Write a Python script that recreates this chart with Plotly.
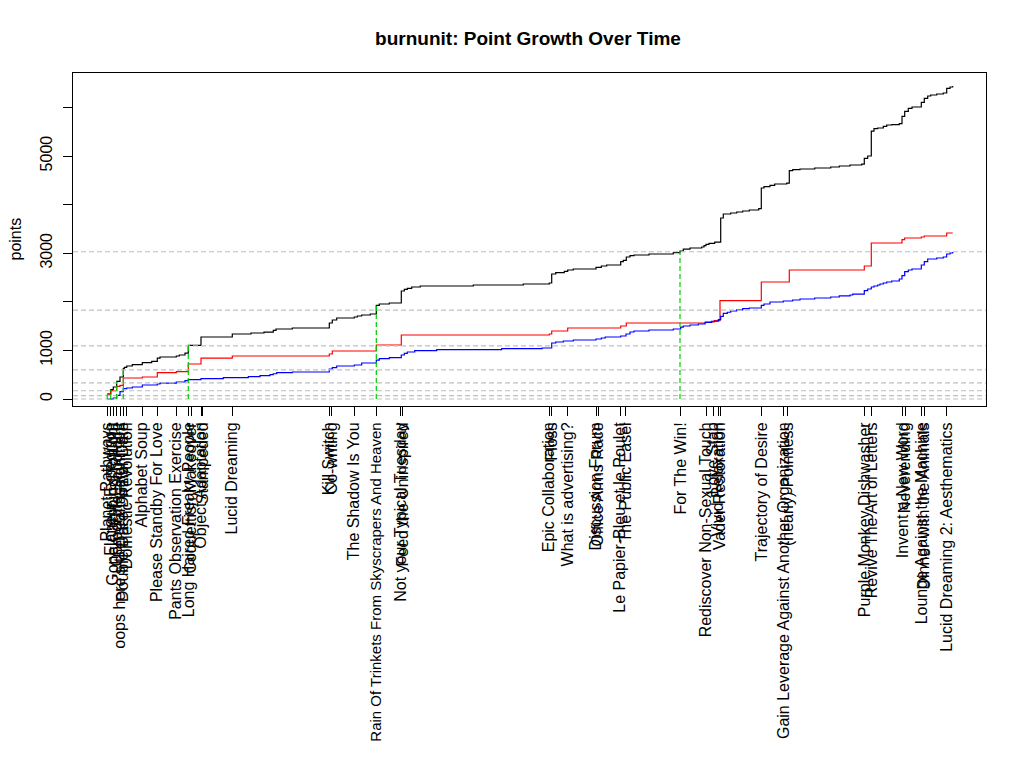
import plotly.graph_objects as go

# ---- data (days since first task) ----
task_days = [0, 3.4, 6, 9.4, 12.7, 16, 19.4, 35, 50, 69, 81.2, 84, 93.7, 95.5, 125,
             222, 224.5, 247, 269, 293.4, 295.2, 442, 444.4, 460.4, 489, 491,
             512.7, 518.2, 573.5, 598.7, 606, 611, 613, 654.4, 676.5, 680.5,
             757.5, 764.4, 795.4, 797.7, 814.4, 816.7, 839.4]
task_names = ["Planet Pathways", "Flaneur Expedition", "Gone Camping Tonight",
              "Corporate Sabotage", "oops here's the real assignment",
              "Double Dare Dinner Date", "Domestic Revolution", "Alphabet Soup",
              "Please Standby For Love", "Pants Observation Exercise",
              "Long Haired Freaky People", "Coquettish Makeover", "Object Adaptation",
              "Stampeded", "Lucid Dreaming", "Kill Switch", "Co-writing",
              "The Shadow Is You", "Rain Of Trinkets From Skyscrapers And Heaven",
              "Not your Typical Tuesday", "Feed the Uninspired", "Epic Collaboration",
              "Floss", "What is advertising?", "Discussion Forum", "Office Arms Race",
              "Le Papier-Bleu et le Poulet", "The Public Easel", "For The Win!",
              "Rediscover Non-Sexual Touch", "Love Stab", "Vivid Relaxation",
              "Vader Restoration", "Trajectory of Desire",
              "Gain Leverage Against Another Organization", "(nearly) Pointless",
              "Purple Monkey Dishwasher", "Revive The Art of Letters",
              "Invent a New Word", "Neverending", "Lounge Against the Machine",
              "Dinner with the Animals", "Lucid Dreaming 2: Aesthematics"]

black_days = [0, 3.4, 6, 9.4, 12.7, 16, 17, 19.4, 25, 35, 44.4, 50, 52.7, 69, 72, 77.7,
              81, 93.7, 125, 143.7, 156.7, 166, 168.7, 185, 222, 225, 229.4, 247, 250,
              254.4, 263, 269, 272, 282, 294, 297, 300, 304.4, 313, 366, 416, 442,
              444.4, 448.4, 457, 460.4, 466, 488.7, 494, 499.4, 513.4, 516, 519,
              522.7, 526.7, 541.7, 566, 572.7, 576, 582.7, 594.4, 596.7, 598.7,
              601.7, 607.4, 613.4, 616, 623.4, 629.4, 635.4, 642, 651.4, 654, 656.7,
              662.7, 667.4, 679.4, 682, 685.4, 692.7, 707.4, 723.4, 732, 742.7,
              754.4, 757, 760.4, 764, 766.7, 770.4, 776, 779.4, 784.4, 792, 794.7,
              797.4, 801, 804.7, 814, 817, 820.4, 823.4, 829.4, 836, 839.4, 842.7,
              845.4]
black_points = [103, 191, 247, 362, 453, 623, 650, 679, 706, 747, 774, 843, 864, 885,
                905, 946, 1103, 1276, 1337, 1358, 1378, 1411, 1440, 1461, 1564, 1626,
                1667, 1687, 1708, 1728, 1749, 1926, 1955, 1975, 2222, 2255, 2276, 2305,
                2325, 2346, 2366, 2387, 2572, 2599, 2626, 2654, 2675, 2708, 2737, 2757,
                2825, 2852, 2922, 2949, 2963, 2984, 3010, 3045, 3086, 3107, 3128, 3154,
                3181, 3202, 3230, 3724, 3807, 3827, 3848, 3868, 3889, 3916, 4342, 4368,
                4396, 4424, 4444, 4698, 4718, 4733, 4753, 4774, 4794, 4815, 4835, 4951,
                5000, 5514, 5562, 5576, 5609, 5638, 5645, 5665, 5815, 5918, 5979, 6008,
                6103, 6185, 6235, 6255, 6276, 6296, 6391, 6420, 6440]

red_days = [0, 3.4, 9.4, 12.7, 16, 35, 50, 69, 81, 93.7, 125, 222, 225, 269, 294, 442,
            444.4, 460.4, 513.4, 519, 598.4, 607, 612.7, 654, 682, 757, 764, 794.7,
            797.4, 814, 817, 839.4, 845.4]
red_points = [103, 171, 259, 280, 432, 453, 541, 562, 720, 843, 885, 926, 988, 1111,
              1317, 1337, 1399, 1461, 1502, 1564, 1584, 1611, 2023, 2407, 2654, 2737,
              3210, 3278, 3313, 3333, 3354, 3416, 3416]

blue_days = [0, 6, 9.4, 12.7, 16, 19.4, 25, 35, 50, 52.7, 69, 77.7, 81, 93.7, 116, 141,
             152.7, 162.7, 166, 169.4, 185, 222, 225, 229.4, 247, 254.4, 269, 272, 282,
             294, 297, 300, 307.4, 329.4, 394.4, 434.7, 444.4, 448.4, 456, 466, 488.7,
             494, 498, 513.4, 518.7, 522.7, 526.7, 541.7, 566, 573.4, 576, 582.7, 591,
             597.7, 604.4, 611, 613.4, 616, 620, 623.4, 629.4, 635.4, 642, 654, 656.7,
             662.7, 676, 685.4, 692.7, 707.4, 723.4, 732, 742.7, 745.4, 757, 760.4, 764,
             766.7, 770.4, 772.7, 776, 779.4, 784.4, 792, 794.7, 797.4, 801, 804.7, 814,
             817, 820.4, 829.4, 836, 839.4, 842.7, 845.4]
blue_points = [0, 21, 74, 150, 212, 226, 247, 288, 309, 325, 350, 377, 397, 418, 438, 459,
               479, 500, 520, 541, 556, 617, 644, 679, 700, 741, 802, 829, 850, 905, 938,
               967, 994, 1014, 1035, 1049, 1152, 1173, 1193, 1214, 1235, 1255, 1276, 1296,
               1337, 1379, 1399, 1420, 1440, 1481, 1502, 1523, 1543, 1577, 1600, 1632,
               1700, 1761, 1785, 1811, 1835, 1858, 1872, 1926, 1955, 1996, 2017, 2037,
               2058, 2078, 2099, 2120, 2140, 2160, 2228, 2263, 2305, 2325, 2346, 2366,
               2387, 2407, 2428, 2469, 2537, 2619, 2654, 2675, 2757, 2825, 2881, 2901,
               2922, 2984, 3004, 3025]

level_thresholds = [0, 70, 170, 330, 600, 1095, 1830, 3030]
level_up_days = [0, 3.4, 9.4, 16, 81, 269, 572.7]
level_up_points = [103, 191, 362, 638, 1103, 1926, 3045]

y_tick_vals = [0, 1000, 2000, 3000, 4000, 5000, 6000]
y_tick_text = ["0", "1000", "", "3000", "", "5000", ""]

x_limits = [-34.3, 878.7]
y_limits = [-144, 6708]

FONT = "Liberation Sans, Arial, sans-serif"

# the very longest label is set a touch smaller so it stays inside the page
x_tick_text = [('<span style="font-size:15px">%s</span>' % n) if len(n) > 43 else n
               for n in task_names]

fig = go.Figure()
fig.add_trace(go.Scatter(x=black_days, y=black_points, mode="lines", line_shape="hv",
                         line=dict(color="#000000", width=1.2), name="total"))
fig.add_trace(go.Scatter(x=red_days, y=red_points, mode="lines", line_shape="hv",
                         line=dict(color="#FF0000", width=1.2), name="red"))
fig.add_trace(go.Scatter(x=blue_days, y=blue_points, mode="lines", line_shape="hv",
                         line=dict(color="#0000FF", width=1.2), name="blue"))

shapes = []
for t in level_thresholds:
    shapes.append(dict(type="line", xref="paper", yref="y", x0=0, x1=1, y0=t, y1=t,
                       line=dict(color="#BEBEBE", width=1.2, dash="5px,3px"), layer="above"))
for d, p in zip(level_up_days, level_up_points):
    shapes.append(dict(type="line", xref="x", yref="y", x0=d, x1=d, y0=0, y1=p,
                       line=dict(color="#00CC00", width=1.2, dash="5px,3px"), layer="above"))

# page body has an 8px margin, so the figure is sized/offset to compensate
fig.update_layout(
    width=1008, height=752,
    margin=dict(l=65, r=30, t=65, b=354, pad=0, autoexpand=False),
    paper_bgcolor="white", plot_bgcolor="white",
    showlegend=False,
    font=dict(family=FONT, size=16, color="black"),
    title=dict(text="<b>burnunit: Point Growth Over Time</b>", x=520 / 1008, xanchor="center",
               y=1 - 30 / 752, yanchor="middle", font=dict(size=19, family=FONT, color="black")),
    shapes=shapes,
    annotations=[dict(text="points", xref="paper", yref="paper", x=0, y=0.5,
                      xshift=-58, xanchor="center", yanchor="middle", textangle=-90,
                      showarrow=False, font=dict(size=16, family=FONT, color="black"))],
)
fig.update_xaxes(range=x_limits, tickmode="array", tickvals=task_days, ticktext=x_tick_text,
                 tickangle=-90, ticks="outside", ticklen=9, tickwidth=1, tickcolor="black",
                 showgrid=False, zeroline=False, showline=True, linecolor="black",
                 linewidth=1, mirror=True, automargin=False,
                 tickfont=dict(size=16, family=FONT, color="black"))
fig.update_yaxes(range=y_limits, tickmode="array", tickvals=y_tick_vals, ticktext=y_tick_text,
                 tickangle=-90, ticks="outside", ticklen=9, tickwidth=1, tickcolor="black",
                 showgrid=False, zeroline=False, showline=True, linecolor="black",
                 linewidth=1, mirror=True, automargin=False, ticklabelstandoff=5,
                 tickfont=dict(size=16, family=FONT, color="black"))

fig.write_html("out.html", config={"displayModeBar": False})
